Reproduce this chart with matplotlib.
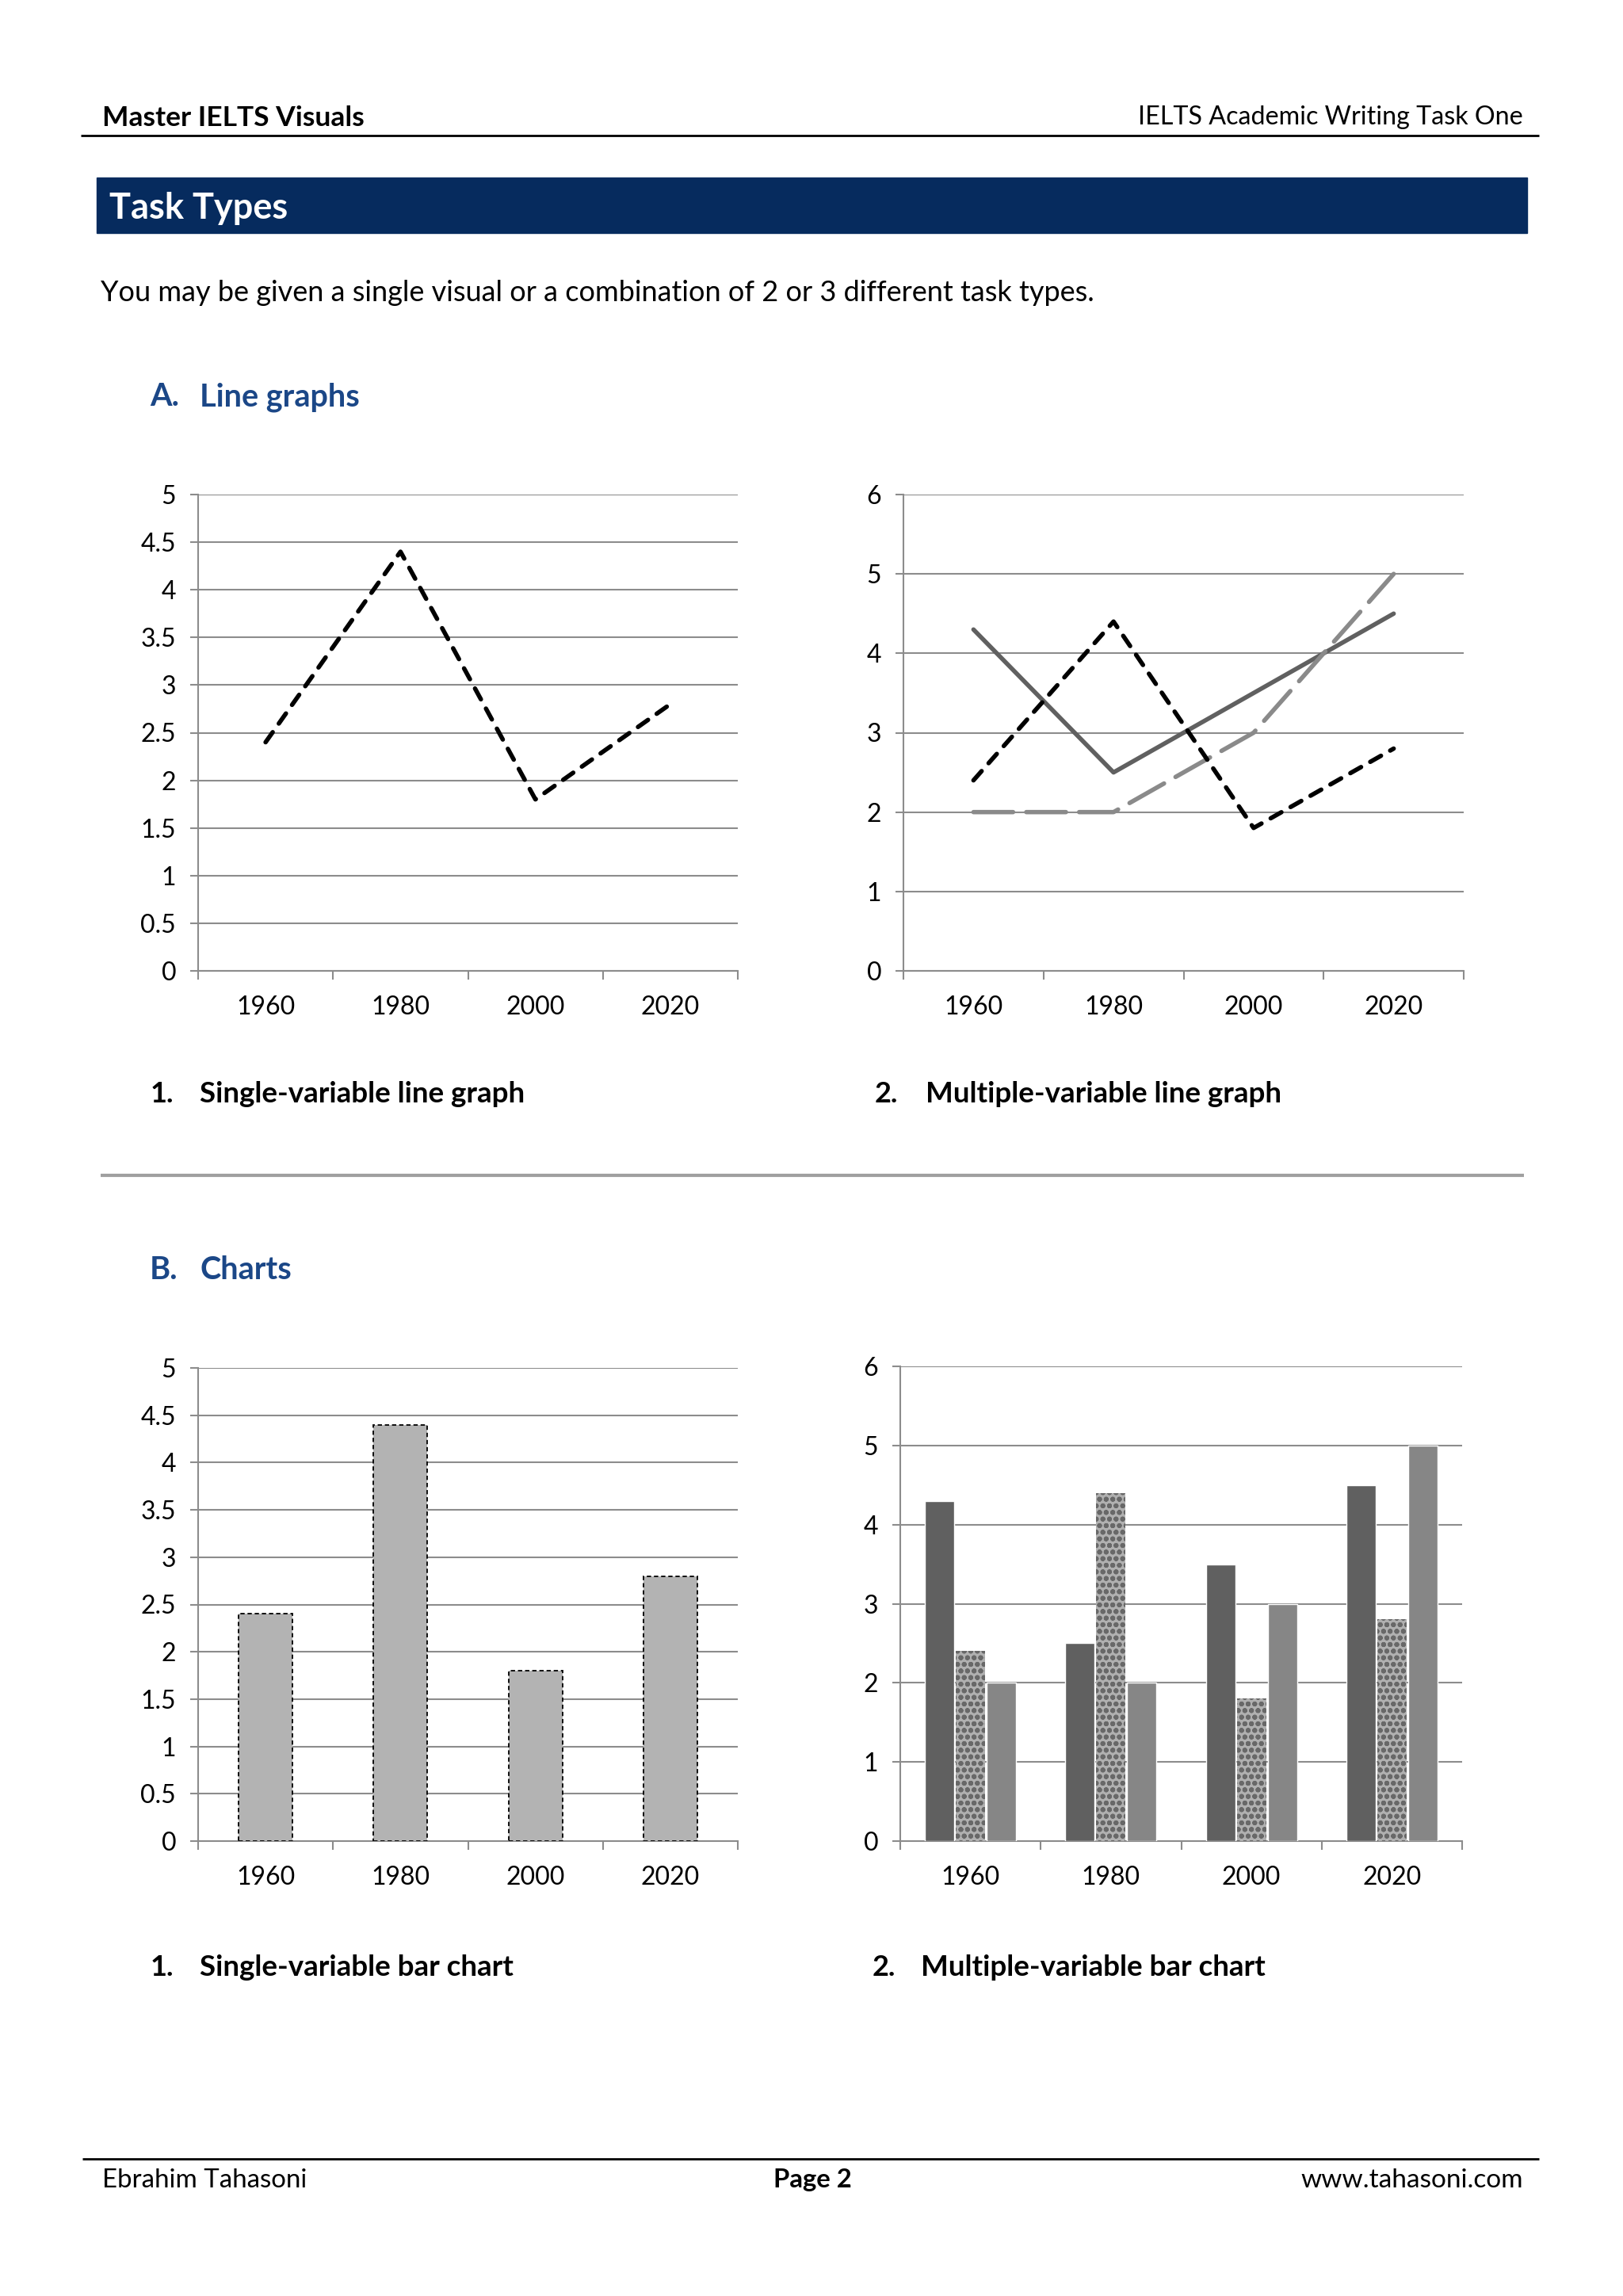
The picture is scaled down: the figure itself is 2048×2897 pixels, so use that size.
import matplotlib.pyplot as plt
from matplotlib.patches import Rectangle
from matplotlib.lines import Line2D

plt.rcParams['font.family'] = ['Lato', 'DejaVu Sans']

W = 2048
H = 2897

years = ['1960', '1980', '2000', '2020']
series_a = [2.4, 4.4, 1.8, 2.8]
series_b = [4.3, 2.5, 3.5, 4.5]
series_c = [2.0, 2.0, 3.0, 5.0]
ticks_half = [0, 0.5, 1, 1.5, 2, 2.5, 3, 3.5, 4, 4.5, 5]
ticks_whole = [0, 1, 2, 3, 4, 5, 6]

GRID = '#8c8c8c'
NAVY = '#062b5e'
HEAD_BLUE = '#1b4787'

fig = plt.figure(figsize=(W / 100, H / 100), dpi=100)


def fx(x):
    return x / W


def fy(y):
    return 1 - y / H


def add_text(x, y, s, **kw):
    fig.text(fx(x), fy(y), s, va='baseline', **kw)


def hline(x0, x1, y, lw, color):
    fig.add_artist(Line2D([fx(x0), fx(x1)], [fy(y), fy(y)], transform=fig.transFigure,
                          color=color, lw=lw, solid_capstyle='butt'))


def make_axes(left, top, right, bottom, yticks):
    ax = fig.add_axes([fx(left), fy(bottom), (right - left) / W, (bottom - top) / H])
    ax.set_xlim(-0.5, 3.5)
    ax.set_ylim(0, yticks[-1])
    ax.set_yticks(yticks)
    ax.set_yticklabels([('%g' % t) for t in yticks])
    ax.set_xticks([-0.5, 0.5, 1.5, 2.5, 3.5])
    ax.set_xticklabels([])
    ax.set_xticks([0, 1, 2, 3], minor=True)
    ax.set_xticklabels(years, minor=True)
    ax.tick_params(axis='x', which='major', length=8, width=1.5, color=GRID, direction='out')
    ax.tick_params(axis='x', which='minor', length=0, pad=22, labelsize=23)
    ax.tick_params(axis='y', length=7, width=1.5, color=GRID, pad=13, labelsize=23)
    ax.grid(axis='y', color=GRID, lw=1.5)
    ax.set_axisbelow(True)
    for side in ['top', 'right']:
        ax.spines[side].set_visible(False)
    for side in ['left', 'bottom']:
        ax.spines[side].set_color(GRID)
        ax.spines[side].set_linewidth(1.5)
    return ax


# header and footer
add_text(129, 159, 'Master IELTS Visuals', fontsize=25.5, fontweight='bold')
add_text(1922, 157, 'IELTS Academic Writing Task One', fontsize=23.2, ha='right')
hline(102, 1942, 171, 2, 'black')

fig.add_artist(Rectangle((fx(122), fy(294)), (1927 - 122) / W, (294 - 224) / H,
                         transform=fig.transFigure, color=NAVY))
add_text(138, 276, 'Task Types', fontsize=32.5, fontweight='bold', color='white')
add_text(127, 380, 'You may be given a single visual or a combination of 2 or 3 different task types.',
         fontsize=26)

add_text(189, 512, 'A.', fontsize=28.5, fontweight='bold', color=HEAD_BLUE)
add_text(252, 512, 'Line graphs', fontsize=28.5, fontweight='bold', color=HEAD_BLUE)

# line graph 1
ax1 = make_axes(250, 624, 931, 1225, ticks_half)
ax1.plot(range(4), series_a, color='black', lw=4, linestyle=(0, (2.8, 2.4)), dash_capstyle='round')

# line graph 2
ax2 = make_axes(1140, 624, 1847, 1225, ticks_whole)
ax2.plot(range(4), series_b, color='#606060', lw=4, solid_capstyle='round')
ax2.plot(range(4), series_c, color='#8a8a8a', lw=4, linestyle=(0, (9, 3)), dash_capstyle='round')
ax2.plot(range(4), series_a, color='black', lw=4, linestyle=(0, (2.8, 2.4)), dash_capstyle='round')

add_text(190, 1391, '1.', fontsize=26, fontweight='bold')
add_text(252, 1391, 'Single-variable line graph', fontsize=26.5, fontweight='bold')
add_text(1104, 1391, '2.', fontsize=26, fontweight='bold')
add_text(1168, 1391, 'Multiple-variable line graph', fontsize=26.5, fontweight='bold')

hline(127, 1923, 1483, 3, '#a0a0a0')

add_text(189, 1614, 'B.', fontsize=28.5, fontweight='bold', color=HEAD_BLUE)
add_text(252, 1614, 'Charts', fontsize=28.5, fontweight='bold', color=HEAD_BLUE)

# bar chart 1
ax3 = make_axes(250, 1726, 931, 2323, ticks_half)
ax3.bar(range(4), series_a, width=0.4, color='#b3b3b3', edgecolor='black', lw=1.3,
        linestyle=(0, (3, 2)), zorder=3)

# bar chart 2
ax4 = make_axes(1136, 1724, 1845, 2323, ticks_whole)
x = list(range(4))
ax4.bar([i - 0.22 for i in x], series_b, width=0.21, color='#606060', edgecolor='white', lw=1, zorder=3)
plt.rcParams['hatch.linewidth'] = 2.0
ax4.bar(x, series_a, width=0.21, color='#b0b0b0', edgecolor='#686868', lw=0, hatch='oo', zorder=3)
ax4.bar([i + 0.22 for i in x], series_c, width=0.21, color='#868686', edgecolor='white', lw=1, zorder=3)

add_text(190, 2493, '1.', fontsize=26, fontweight='bold')
add_text(252, 2493, 'Single-variable bar chart', fontsize=26.5, fontweight='bold')
add_text(1101, 2493, '2.', fontsize=26, fontweight='bold')
add_text(1162, 2493, 'Multiple-variable bar chart', fontsize=26.5, fontweight='bold')

hline(104, 1942, 2724, 2, 'black')
add_text(129, 2760, 'Ebrahim Tahasoni', fontsize=23.8)
add_text(1025, 2760, 'Page 2', fontsize=23.7, fontweight='bold', ha='center')
add_text(1922, 2760, 'www.tahasoni.com', fontsize=24, ha='right')

fig.savefig('out.png', dpi=100, facecolor='white')
